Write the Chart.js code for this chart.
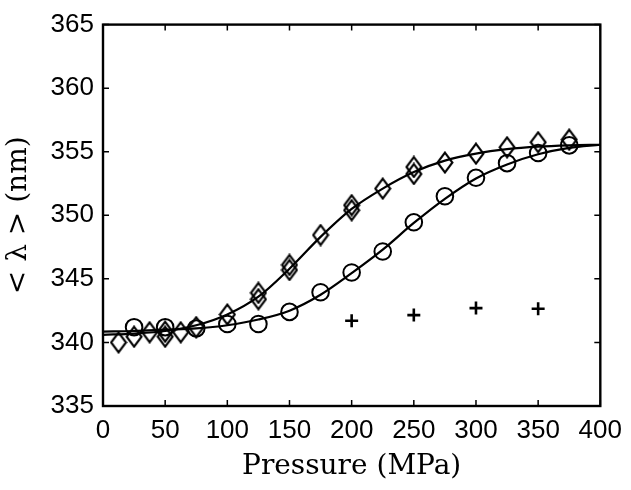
<!DOCTYPE html>
<html>
<head>
<meta charset="utf-8">
<script src="https://cdn.jsdelivr.net/npm/chart.js@4/dist/chart.umd.min.js"></script>
<style>
html,body{margin:0;padding:0;background:#fff;}
#wrap{width:631px;height:490px;}
</style>
</head>
<body>
<div id="wrap"><canvas id="c" width="631" height="490"></canvas></div>
<script>
// ---- data ----
const xTicks = [0, 50, 100, 150, 200, 250, 300, 350, 400];
const yTicks = [335, 340, 345, 350, 355, 360, 365];

const diamondP = [12.5, 25, 37.5, 50, 50, 62.5, 75, 100, 125, 125, 150, 150, 175, 200, 200, 225, 250, 250, 275, 300, 325, 350, 375];
const diamondL = [340.0, 340.45, 340.8, 340.85, 340.45, 340.8, 341.2, 342.2, 343.4, 343.9, 345.7, 346.1, 348.45, 350.4, 350.8, 352.1, 353.25, 353.8, 354.15, 354.85, 355.35, 355.75, 355.95];

const circleP = [25, 50, 75, 100, 125, 150, 175, 200, 225, 250, 275, 300, 325, 350, 375];
const circleL = [341.2, 341.2, 341.1, 341.45, 341.45, 342.4, 343.95, 345.5, 347.15, 349.45, 351.5, 352.95, 354.1, 354.9, 355.5];

const plusP = [200, 250, 300, 350];
const plusL = [341.7, 342.15, 342.7, 342.65];

const fitP = [0, 25, 50, 75, 100, 125, 150, 175, 200, 225, 250, 275, 300, 325, 350, 375, 400];
const fitDiamondL = [340.6, 340.7, 340.9, 341.35, 342.2, 343.6, 345.8, 348.3, 350.5, 352.1, 353.4, 354.3, 354.85, 355.2, 355.4, 355.5, 355.55];
const fitCircleL = [340.85, 340.9, 341.0, 341.1, 341.35, 341.8, 342.5, 343.75, 345.45, 347.3, 349.4, 351.3, 352.9, 354.0, 354.8, 355.3, 355.55];

const pts = (xs, ys) => xs.map((x, i) => ({x: x, y: ys[i]}));

// diamond marker (taller than wide)
function makeDiamond(w, h, lw) {
  const c = document.createElement('canvas');
  c.width = w; c.height = h;
  const g = c.getContext('2d');
  g.strokeStyle = '#000'; g.lineWidth = lw; g.lineJoin = 'miter';
  g.beginPath();
  g.moveTo(w / 2, lw / 2 + 0.5);
  g.lineTo(w - lw / 2 - 0.5, h / 2);
  g.lineTo(w / 2, h - lw / 2 - 0.5);
  g.lineTo(lw / 2 + 0.5, h / 2);
  g.closePath();
  g.stroke();
  return c;
}
const diamondImg = makeDiamond(18, 23, 2.1);

const framePlugin = {
  id: 'frame',
  afterDraw(chart) {
    const ctx = chart.ctx, a = chart.chartArea;
    const xs = chart.scales.x, ys = chart.scales.y;
    const tl = 6;
    ctx.save();
    ctx.strokeStyle = '#000';
    ctx.lineWidth = 1.5;
    ctx.beginPath();
    xTicks.forEach(v => {
      const px = xs.getPixelForValue(v);
      ctx.moveTo(px, a.bottom); ctx.lineTo(px, a.bottom - tl);
      ctx.moveTo(px, a.top); ctx.lineTo(px, a.top + tl);
    });
    yTicks.forEach(v => {
      const py = ys.getPixelForValue(v);
      ctx.moveTo(a.left, py); ctx.lineTo(a.left + tl, py);
      ctx.moveTo(a.right, py); ctx.lineTo(a.right - tl, py);
    });
    ctx.stroke();
    ctx.lineWidth = 2.4;
    ctx.strokeRect(a.left, a.top, a.right - a.left, a.bottom - a.top);
    ctx.restore();
  }
};

const tickFont = {family: 'Liberation Sans, Arial, sans-serif', size: 26};
const titleFont = {family: 'DejaVu Serif, Liberation Serif, serif', size: 28};

new Chart(document.getElementById('c'), {
  type: 'scatter',
  data: {
    datasets: [
      {
        type: 'line', data: pts(fitP, fitDiamondL), borderColor: '#000', borderWidth: 2.2,
        pointRadius: 0, cubicInterpolationMode: 'monotone', fill: false
      },
      {
        type: 'line', data: pts(fitP, fitCircleL), borderColor: '#000', borderWidth: 2.2,
        pointRadius: 0, cubicInterpolationMode: 'monotone', fill: false
      },
      {
        data: pts(diamondP, diamondL), pointStyle: diamondImg, pointRadius: 9,
        borderColor: '#000', backgroundColor: 'rgba(0,0,0,0)'
      },
      {
        data: pts(circleP, circleL), pointStyle: 'circle', pointRadius: 8.3,
        borderColor: '#000', borderWidth: 2, backgroundColor: 'rgba(0,0,0,0)'
      },
      {
        data: pts(plusP, plusL), pointStyle: 'cross', pointRadius: 6.5,
        borderColor: '#000', borderWidth: 2.6, backgroundColor: 'rgba(0,0,0,0)'
      }
    ]
  },
  options: {
    responsive: false,
    animation: false,
    events: [],
    layout: {padding: {left: 0, top: 13, right: 27, bottom: 0}},
    plugins: {legend: {display: false}, tooltip: {enabled: false}},
    scales: {
      x: {
        type: 'linear', min: 0, max: 400,
        afterBuildTicks: s => { s.ticks = xTicks.map(v => ({value: v})); },
        afterFit: s => { s.height = 84; },
        grid: {display: false, drawTicks: false},
        border: {display: false},
        ticks: {color: '#000', font: tickFont, padding: 9, maxRotation: 0, autoSkip: false},
        title: {display: true, text: 'Pressure (MPa)', color: '#000', font: titleFont, padding: {top: 0, bottom: 6}}
      },
      y: {
        type: 'linear', min: 335, max: 365,
        afterBuildTicks: s => { s.ticks = yTicks.map(v => ({value: v})); },
        afterFit: s => { s.width = 103; },
        grid: {display: false, drawTicks: false},
        border: {display: false},
        ticks: {color: '#000', font: tickFont, padding: 9, autoSkip: false},
        title: {display: true, text: '< λ > (nm)', color: '#000', font: titleFont, padding: {top: 2, bottom: 0}}
      }
    }
  },
  plugins: [framePlugin]
});
</script>
</body>
</html>
